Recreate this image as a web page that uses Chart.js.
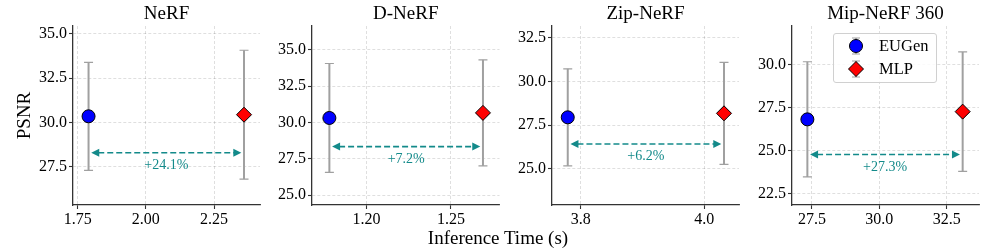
<!DOCTYPE html>
<html>
<head>
<meta charset="utf-8">
<script src="https://cdn.jsdelivr.net/npm/chart.js@4.4.1/dist/chart.umd.min.js"></script>
<style>
  html, body { margin: 0; padding: 0; background: #fff; }
  #fig { position: relative; width: 996px; height: 249px; overflow: hidden; font-family: "Liberation Serif", "Times New Roman", serif; }
  #fig canvas { position: absolute; top: 0; }
  #xlabel { position: absolute; left: 0; width: 996px; top: 227px; text-align: center; font-size: 19px; line-height: 22px; color: #000; }
  #legend { position: absolute; left: 833px; top: 33px; width: 102px; height: 48px; background: rgba(255,255,255,0.85);
            border: 1px solid #d0d0d0; border-radius: 3px; }
  #legend svg { position: absolute; left: 0; top: 0; }
  #legend .lab { position: absolute; left: 45px; font-size: 16.5px; line-height: 18px; color: #000; }
</style>
</head>
<body>
<div id="fig">
  <canvas id="c0"></canvas>
  <canvas id="c1"></canvas>
  <canvas id="c2"></canvas>
  <canvas id="c3"></canvas>
  <div id="xlabel">Inference Time (s)</div>
  <div id="legend">
    <svg width="102" height="48">
      <g stroke="#a0a0a0">
        <line x1="22" y1="4" x2="22" y2="20" stroke-width="2"/>
        <line x1="18" y1="4" x2="26" y2="4" stroke-width="1"/>
        <line x1="18" y1="20" x2="26" y2="20" stroke-width="1"/>
        <line x1="22" y1="27" x2="22" y2="43" stroke-width="2"/>
        <line x1="18" y1="27" x2="26" y2="27" stroke-width="1"/>
        <line x1="18" y1="43" x2="26" y2="43" stroke-width="1"/>
      </g>
      <circle cx="22" cy="12" r="6.5" fill="#0000ff" stroke="#000" stroke-width="1"/>
      <polygon points="22,27.5 29.5,35 22,42.5 14.5,35" fill="#ff0000" stroke="#000" stroke-width="1"/>
    </svg>
    <div class="lab" style="top:3px">EUGen</div>
    <div class="lab" style="top:26px">MLP</div>
  </div>
</div>
<script>
const panels = ['NeRF', 'D-NeRF', 'Zip-NeRF', 'Mip-NeRF 360'];
const eugenTime = [1.79, 1.178, 3.779, 27.33];
const eugenPsnr = [30.35, 30.32, 27.94, 26.82];
const eugenErr = [3.05, 3.75, 2.78, 3.35];
const mlpTime = [2.36, 1.269, 4.032, 33.09];
const mlpPsnr = [30.44, 30.67, 28.17, 27.27];
const mlpErr = [3.64, 3.65, 2.92, 3.47];
const arrowPsnr = [28.29, 28.35, 26.41, 24.78];
const gainLabels = ['+24.1%', '+7.2%', '+6.2%', '+27.3%'];
const xTickLabels = [['1.75', '2.00', '2.25'], ['1.20', '1.25'], ['3.8', '4.0'], ['27.5', '30.0', '32.5']];
const yTickLabels = [['27.5', '30.0', '32.5', '35.0'], ['25.0', '27.5', '30.0', '32.5', '35.0'],
                     ['25.0', '27.5', '30.0', '32.5'], ['22.5', '25.0', '27.5', '30.0']];
const xLimits = [[1.733, 2.4186], [1.1677, 1.2788], [3.7535, 4.0563], [26.76, 33.696]];
const yLimits = [[25.34, 35.45], [24.33, 36.65], [22.92, 33.17], [21.84, 32.25]];

// layout of each axes box (pixels)
const spineX = [73, 312, 552, 792];
const rightX = [260, 499.5, 739, 979];
const FONT = '"Liberation Serif", "Times New Roman", serif';
const TEAL = '#138a8a';

const errorBars = {
  id: 'errorBars',
  beforeDatasetsDraw(chart) {
    const {ctx, scales: {x, y}} = chart;
    ctx.save();
    ctx.strokeStyle = '#a0a0a0';
    chart.data.datasets.forEach(ds => {
      ds.data.forEach(p => {
        const px = x.getPixelForValue(p.x);
        const top = y.getPixelForValue(p.y + p.err);
        const bot = y.getPixelForValue(p.y - p.err);
        ctx.lineWidth = 2;
        ctx.beginPath(); ctx.moveTo(px, top); ctx.lineTo(px, bot); ctx.stroke();
        ctx.lineWidth = 1.2;
        ctx.beginPath();
        ctx.moveTo(px - 4.5, top); ctx.lineTo(px + 4.5, top);
        ctx.moveTo(px - 4.5, bot); ctx.lineTo(px + 4.5, bot);
        ctx.stroke();
      });
    });
    ctx.restore();
  }
};

const gainArrow = {
  id: 'gainArrow',
  afterDatasetsDraw(chart, args, opts) {
    const {ctx, scales: {x, y}} = chart;
    const x0 = x.getPixelForValue(opts.from) + 2.7;
    const x1 = x.getPixelForValue(opts.to) - 2.7;
    const py = y.getPixelForValue(opts.y);
    const head = 8, hw = 4;
    ctx.save();
    ctx.strokeStyle = TEAL;
    ctx.fillStyle = TEAL;
    ctx.lineWidth = 1.6;
    ctx.setLineDash([6, 3]);
    ctx.beginPath(); ctx.moveTo(x0 + head - 1, py); ctx.lineTo(x1 - head + 1, py); ctx.stroke();
    ctx.setLineDash([]);
    ctx.beginPath();
    ctx.moveTo(x0, py); ctx.lineTo(x0 + head, py - hw); ctx.lineTo(x0 + head, py + hw); ctx.closePath();
    ctx.moveTo(x1, py); ctx.lineTo(x1 - head, py - hw); ctx.lineTo(x1 - head, py + hw); ctx.closePath();
    ctx.fill();
    ctx.font = '14px ' + FONT;
    ctx.textAlign = 'center';
    ctx.textBaseline = 'middle';
    ctx.fillText(opts.label, (x0 + x1) / 2, py + 12.5);
    ctx.restore();
  }
};

function makeChart(i) {
  const yAxisW = i === 0 ? 73 : 50;
  const left = spineX[i] - yAxisW;
  const width = Math.ceil(rightX[i] - left + 16);
  const padRight = left + width - rightX[i];
  const canvas = document.getElementById('c' + i);
  canvas.width = width;
  canvas.height = 249;
  canvas.style.left = left + 'px';

  const tickFont = {family: FONT, size: 16};
  const grid = {color: 'rgba(0,0,0,0.16)', lineWidth: 0.8, tickLength: 4, tickColor: '#333', tickWidth: 1.1};
  const border = {display: true, color: '#333', width: 1.3, dash: [3, 2]};

  new Chart(canvas, {
    type: 'scatter',
    data: {
      datasets: [
        {
          label: 'EUGen',
          data: [{x: eugenTime[i], y: eugenPsnr[i], err: eugenErr[i]}],
          pointStyle: 'circle', pointRadius: 6.5, pointHoverRadius: 6.5,
          backgroundColor: '#0000ff', borderColor: '#000', borderWidth: 1
        },
        {
          label: 'MLP',
          data: [{x: mlpTime[i], y: mlpPsnr[i], err: mlpErr[i]}],
          pointStyle: 'rectRot', pointRadius: 7.5, pointHoverRadius: 7.5,
          backgroundColor: '#ff0000', borderColor: '#000', borderWidth: 1
        }
      ]
    },
    options: {
      responsive: false,
      animation: false,
      events: [],
      layout: {padding: {left: 0, top: 0, bottom: 0, right: padRight}},
      plugins: {
        legend: {display: false},
        tooltip: {enabled: false},
        title: {
          display: true, text: panels[i], fullSize: false, color: '#000',
          font: {family: FONT, size: 19, weight: 'normal', lineHeight: 1.2},
          padding: {top: 3, bottom: 0.2}
        },
        gainArrow: {from: eugenTime[i], to: mlpTime[i], y: arrowPsnr[i], label: gainLabels[i]}
      },
      scales: {
        x: {
          type: 'linear', min: xLimits[i][0], max: xLimits[i][1],
          afterBuildTicks: s => { s.ticks = xTickLabels[i].map(v => ({value: parseFloat(v)})); },
          afterFit: s => { s.height = 44; },
          ticks: {font: tickFont, color: '#000', padding: 1, autoSkip: false, maxRotation: 0,
                  callback: (v, idx) => xTickLabels[i][idx]},
          grid: grid, border: border
        },
        y: {
          type: 'linear', min: yLimits[i][0], max: yLimits[i][1],
          afterBuildTicks: s => { s.ticks = yTickLabels[i].map(v => ({value: parseFloat(v)})); },
          afterFit: s => { s.width = yAxisW; },
          ticks: {font: tickFont, color: '#000', padding: 2, autoSkip: false,
                  callback: (v, idx) => yTickLabels[i][idx]},
          grid: grid, border: border,
          title: {display: i === 0, text: 'PSNR', color: '#000',
                  font: {family: FONT, size: 19, lineHeight: 1.2}, padding: {top: 14, bottom: 0}}
        }
      }
    },
    plugins: [errorBars, gainArrow]
  });
}

panels.forEach((p, i) => makeChart(i));
</script>
</body>
</html>
